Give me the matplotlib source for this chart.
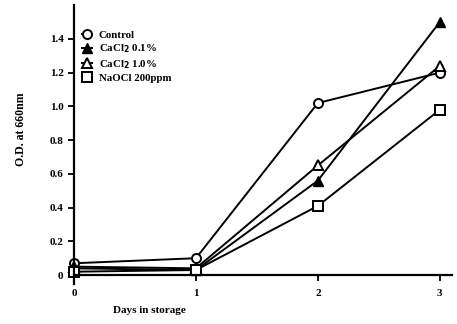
import matplotlib.pyplot as plt
import numpy as np

# data
days = [0, 1, 2, 3]
control = [0.07, 0.10, 1.02, 1.20]
cacl_01 = [0.04, 0.03, 0.56, 1.50]
cacl_10 = [0.05, 0.04, 0.65, 1.24]
naocl = [0.02, 0.03, 0.41, 0.98]

plt.rcParams['font.family'] = ['Liberation Serif', 'DejaVu Serif']
plt.rcParams['font.weight'] = 'bold'

fig = plt.figure(figsize=(4.57, 3.24), dpi=100)
ax = fig.add_axes([0.162, 0.151, 0.827, 0.833])

ax.plot(days, control, color='black', lw=1.4, marker='o', ms=6.5,
        mfc='white', mec='black', mew=1.4, label='Control')
ax.plot(days, cacl_01, color='black', lw=1.4, marker='^', ms=6.5,
        mfc='black', mec='black', label='CaCl$_2$ 0.1%')
ax.plot(days, cacl_10, color='black', lw=1.4, marker='^', ms=6.5,
        mfc='white', mec='black', mew=1.4, label='CaCl$_2$ 1.0%')
ax.plot(days, naocl, color='black', lw=1.4, marker='s', ms=6.5,
        mfc='white', mec='black', mew=1.4, label='NaOCl 200ppm')

ax.set_xlim(0, 3.1)
ax.set_ylim(0, 1.6)
ax.set_xticks(days)
ax.set_yticks([0, 0.2, 0.4, 0.6, 0.8, 1.0, 1.2, 1.4])
ax.set_yticklabels(['0', '0.2', '0.4', '0.6', '0.8', '1.0', '1.2', '1.4'])

for s in ['top', 'right']:
    ax.spines[s].set_visible(False)
ax.spines['left'].set_linewidth(1.6)
ax.spines['bottom'].set_linewidth(1.6)
ax.spines['left'].set_bounds(-0.05, 1.6)
ax.tick_params(axis='both', direction='out', length=4, width=1.3,
               labelsize=8)
ax.tick_params(axis='x', pad=6)

ax.set_xlabel('Days in storage', fontsize=8, fontweight='bold')
ax.xaxis.set_label_coords(0.2, -0.115)
ax.set_ylabel('O.D. at 660nm', fontsize=8.5, fontweight='bold')
ax.yaxis.set_label_coords(-0.125, 0.54)

ax.legend(loc='upper left', bbox_to_anchor=(0.0, 0.935), frameon=False,
          fontsize=7.8, handlelength=1.0, handletextpad=0.6,
          labelspacing=0.25, borderaxespad=0.3)

for l in ax.lines:
    l.set_clip_on(False)

fig.savefig('out.png', dpi=100)
